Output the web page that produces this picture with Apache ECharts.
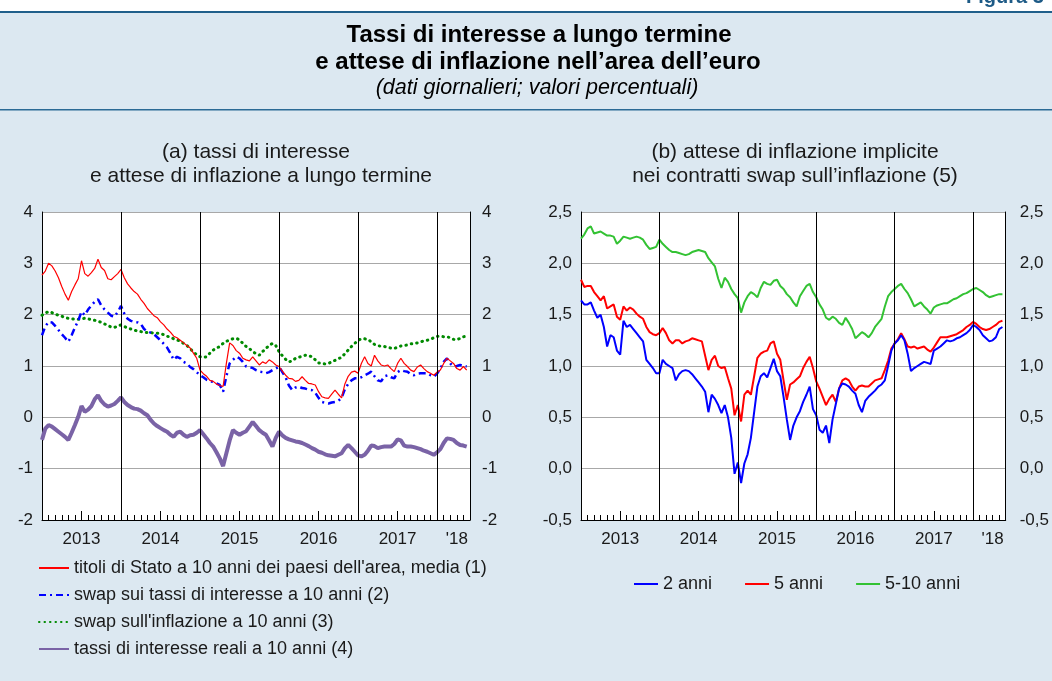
<!DOCTYPE html>
<html>
<head>
<meta charset="utf-8">
<script src="https://cdn.jsdelivr.net/npm/echarts@6/dist/echarts.min.js"></script>
<style>
  body { margin: 0; background: #fff; }
  #main { width: 1052px; height: 681px; }
</style>
</head>
<body>
<div id="main"></div>
<script>
// asse dei tempi: mesi da gennaio 2013 (0) a fine maggio 2018 (65), passo mezzo mese
var yearBreaks = [12, 24, 36, 48, 60]
var yearLabels = { 6: '2013', 18: '2014', 30: '2015', 42: '2016', 54: '2017' }
var lastLabel = "'18"

// (a) tassi di interesse e attese di inflazione a lungo termine
var titoli = [
  2.77, 2.85, 3.00, 2.95, 2.85, 2.72, 2.55, 2.40, 2.28, 2.45, 2.58, 2.70,
  3.05, 2.80, 2.75, 2.82, 2.90, 3.08, 2.92, 2.86, 2.70, 2.68, 2.74, 2.80,
  2.88, 2.72, 2.60, 2.52, 2.45, 2.40, 2.30, 2.22, 2.12, 2.05, 1.98, 1.94,
  1.86, 1.80, 1.72, 1.66, 1.58, 1.55, 1.50, 1.45, 1.40, 1.35, 1.25, 1.15,
  0.92, 0.85, 0.80, 0.72, 0.70, 0.65, 0.62, 0.60, 1.05, 1.45, 1.40, 1.30,
  1.25, 1.15, 1.12, 1.10, 1.18, 1.10, 1.02, 1.08, 1.05, 1.12, 1.08, 1.02,
  0.99, 0.90, 0.82, 0.76, 0.75, 0.70, 0.72, 0.79, 0.72, 0.66, 0.65, 0.63,
  0.50, 0.40, 0.38, 0.37, 0.45, 0.53, 0.45, 0.38, 0.65, 0.80, 0.88, 0.90,
  0.86, 1.05, 1.18, 1.05, 1.00, 1.21, 1.10, 1.02, 1.00, 1.02, 0.95, 0.89,
  1.05, 1.15, 1.05, 0.99, 0.92, 0.89, 0.98, 1.02, 0.95, 0.89, 0.86, 0.82,
  0.88, 0.92, 1.05, 1.15, 1.10, 1.05, 0.95, 0.92, 0.99, 0.92
]
var swapTassi = [
  1.60, 1.77, 1.86, 1.85, 1.78, 1.70, 1.62, 1.55, 1.47, 1.60, 1.75, 1.88,
  2.06, 1.99, 2.10, 2.18, 2.25, 2.30, 2.18, 2.10, 2.04, 1.98, 1.96, 2.05,
  2.17, 2.02, 1.92, 1.88, 1.86, 1.85, 1.82, 1.72, 1.67, 1.65, 1.62, 1.56,
  1.50, 1.43, 1.36, 1.25, 1.12, 1.18, 1.15, 1.08, 1.05, 0.98, 0.94, 0.88,
  0.82, 0.78, 0.73, 0.70, 0.69, 0.66, 0.63, 0.50, 0.80, 1.05, 1.12, 1.18,
  1.15, 1.08, 0.99, 0.98, 0.96, 0.92, 0.89, 0.88, 0.86, 0.88, 0.92, 0.95,
  0.99, 0.88, 0.78, 0.62, 0.53, 0.58, 0.60, 0.57, 0.56, 0.54, 0.53, 0.48,
  0.38, 0.30, 0.28, 0.27, 0.29, 0.30, 0.32, 0.38, 0.55, 0.65, 0.72, 0.76,
  0.76, 0.78, 0.82, 0.85, 0.89, 0.80, 0.72, 0.70, 0.80, 0.82, 0.78, 0.76,
  0.88, 0.92, 0.90, 0.89, 0.84, 0.82, 0.85, 0.86, 0.86, 0.86, 0.82, 0.79,
  0.85, 0.95, 1.08, 1.15, 1.05, 0.99, 1.00, 1.02, 1.00, 0.99
]
var swapInfl = [
  1.99, 2.03, 2.06, 2.04, 2.01, 1.99, 1.97, 1.94, 1.93, 1.92, 1.91, 1.91,
  1.92, 1.93, 1.92, 1.90, 1.89, 1.87, 1.85, 1.82, 1.79, 1.76, 1.75, 1.78,
  1.80, 1.77, 1.74, 1.72, 1.70, 1.68, 1.67, 1.66, 1.65, 1.65, 1.64, 1.64,
  1.63, 1.61, 1.58, 1.56, 1.53, 1.51, 1.48, 1.44, 1.40, 1.34, 1.27, 1.22,
  1.18, 1.17, 1.18, 1.25, 1.31, 1.35, 1.38, 1.44, 1.48, 1.51, 1.53, 1.54,
  1.51, 1.44, 1.38, 1.34, 1.28, 1.24, 1.21, 1.28, 1.34, 1.40, 1.44, 1.40,
  1.28, 1.20, 1.13, 1.08, 1.10, 1.15, 1.17, 1.19, 1.21, 1.20, 1.18, 1.12,
  1.06, 1.05, 1.04, 1.05, 1.08, 1.11, 1.14, 1.17, 1.24, 1.31, 1.38, 1.44,
  1.50, 1.53, 1.53, 1.52, 1.47, 1.42, 1.40, 1.38, 1.38, 1.36, 1.35, 1.34,
  1.37, 1.39, 1.40, 1.41, 1.43, 1.44, 1.45, 1.47, 1.49, 1.50, 1.52, 1.55,
  1.58, 1.58, 1.57, 1.57, 1.55, 1.52, 1.51, 1.54, 1.57, 1.58
]
var tassiReali = [
  -0.44, -0.22, -0.15, -0.18, -0.23, -0.28, -0.33, -0.38, -0.44, -0.30, -0.15, 0.01,
  0.22, 0.11, 0.15, 0.22, 0.35, 0.43, 0.32, 0.25, 0.21, 0.23, 0.26, 0.32,
  0.39, 0.30, 0.24, 0.20, 0.17, 0.16, 0.13, 0.08, 0.04, -0.05, -0.12, -0.17,
  -0.21, -0.25, -0.28, -0.34, -0.38, -0.30, -0.28, -0.34, -0.38, -0.35, -0.34, -0.30,
  -0.25, -0.33, -0.41, -0.50, -0.57, -0.68, -0.80, -0.95, -0.70, -0.45, -0.25, -0.30,
  -0.34, -0.30, -0.27, -0.18, -0.09, -0.17, -0.25, -0.30, -0.34, -0.45, -0.57, -0.40,
  -0.28, -0.35, -0.40, -0.43, -0.45, -0.47, -0.48, -0.50, -0.53, -0.56, -0.60, -0.63,
  -0.67, -0.69, -0.72, -0.74, -0.75, -0.76, -0.73, -0.70, -0.60, -0.54, -0.60, -0.67,
  -0.74, -0.76, -0.73, -0.65, -0.55, -0.56, -0.60, -0.58, -0.57, -0.57, -0.57, -0.52,
  -0.43, -0.45, -0.55, -0.57, -0.57, -0.58, -0.60, -0.62, -0.65, -0.67, -0.70, -0.73,
  -0.68, -0.62, -0.50, -0.41, -0.42, -0.44, -0.50, -0.54, -0.55, -0.57
]

// (b) attese di inflazione implicite nei contratti swap
var infl2 = [
  1.64, 1.60, 1.60, 1.62, 1.54, 1.47, 1.50, 1.38, 1.19, 1.30, 1.28, 1.15,
  1.11, 1.44, 1.38, 1.40, 1.36, 1.32, 1.28, 1.24, 1.06, 1.02, 0.98, 0.93,
  0.93, 1.06, 1.02, 1.00, 0.98, 0.86, 0.92, 0.95, 0.96, 0.95, 0.92, 0.88,
  0.84, 0.80, 0.75, 0.55, 0.72, 0.68, 0.62, 0.54, 0.62, 0.50, 0.30, -0.05,
  0.06, -0.14, 0.05, 0.14, 0.30, 0.55, 0.80, 0.90, 0.93, 0.89, 0.98, 1.07,
  0.95, 0.90, 0.70, 0.48, 0.28, 0.42, 0.50, 0.56, 0.65, 0.72, 0.80, 0.58,
  0.52, 0.38, 0.35, 0.42, 0.25, 0.48, 0.63, 0.78, 0.83, 0.82, 0.80, 0.76,
  0.73, 0.62, 0.55, 0.66, 0.70, 0.73, 0.76, 0.80, 0.82, 0.86, 1.00, 1.15,
  1.22, 1.25, 1.30, 1.25, 1.12, 0.95, 0.98, 1.00, 1.02, 1.04, 1.03, 1.02,
  1.15, 1.17, 1.19, 1.22, 1.25, 1.24, 1.25, 1.27, 1.28, 1.30, 1.32, 1.35,
  1.40, 1.38, 1.35, 1.30, 1.27, 1.24, 1.25, 1.28, 1.36, 1.38
]
var infl5 = [
  1.84, 1.77, 1.78, 1.78, 1.72, 1.68, 1.64, 1.68, 1.56, 1.58, 1.60, 1.48,
  1.45, 1.58, 1.54, 1.57, 1.55, 1.51, 1.48, 1.46, 1.38, 1.33, 1.31, 1.30,
  1.32, 1.37, 1.32, 1.25, 1.22, 1.25, 1.25, 1.22, 1.24, 1.25, 1.27, 1.26,
  1.25, 1.24, 1.10, 0.96, 1.06, 1.10, 1.00, 0.98, 0.99, 0.88, 0.78, 0.52,
  0.62, 0.46, 0.72, 0.76, 0.72, 0.90, 1.08, 1.12, 1.14, 1.15, 1.22, 1.24,
  1.12, 1.06, 0.86, 0.67, 0.82, 0.84, 0.87, 0.90, 0.98, 1.04, 1.09, 0.98,
  0.85, 0.78, 0.70, 0.62, 0.68, 0.72, 0.65, 0.78, 0.86, 0.88, 0.86, 0.80,
  0.76, 0.80, 0.81, 0.80, 0.80, 0.83, 0.86, 0.87, 0.88, 0.96, 1.05, 1.17,
  1.22, 1.26, 1.32, 1.26, 1.19, 1.18, 1.19, 1.17, 1.18, 1.19, 1.16, 1.14,
  1.18, 1.23, 1.28, 1.28, 1.28, 1.29, 1.30, 1.31, 1.33, 1.35, 1.38, 1.40,
  1.43, 1.41, 1.38, 1.36, 1.35, 1.36, 1.38, 1.40, 1.43, 1.44
]
var infl510 = [
  2.24, 2.28, 2.34, 2.36, 2.29, 2.30, 2.31, 2.29, 2.27, 2.27, 2.26, 2.19,
  2.22, 2.26, 2.25, 2.24, 2.25, 2.26, 2.25, 2.23, 2.18, 2.14, 2.15, 2.16,
  2.23, 2.19, 2.16, 2.13, 2.11, 2.11, 2.10, 2.09, 2.08, 2.09, 2.11, 2.12,
  2.13, 2.12, 2.11, 2.05, 2.01, 1.97, 1.85, 1.76, 1.86, 1.82, 1.75, 1.70,
  1.66, 1.52, 1.62, 1.68, 1.72, 1.70, 1.67, 1.76, 1.82, 1.80, 1.79, 1.83,
  1.84, 1.78, 1.75, 1.70, 1.67, 1.62, 1.58, 1.68, 1.73, 1.78, 1.80, 1.72,
  1.67, 1.60, 1.55, 1.47, 1.45, 1.48, 1.46, 1.42, 1.40, 1.47, 1.42, 1.36,
  1.27, 1.30, 1.33, 1.31, 1.28, 1.32, 1.38, 1.42, 1.46, 1.58, 1.68, 1.72,
  1.75, 1.78, 1.80, 1.75, 1.71, 1.65, 1.58, 1.60, 1.62, 1.58, 1.55, 1.51,
  1.57, 1.59, 1.60, 1.61, 1.61, 1.63, 1.65, 1.66, 1.68, 1.70, 1.71, 1.73,
  1.75, 1.76, 1.74, 1.72, 1.69, 1.67, 1.68, 1.69, 1.70, 1.70
]

var FONT = '"Liberation Sans", Arial, Helvetica, sans-serif'
var TXT = '#1a1a1a'

function pairs(arr) {
  return arr.map(function(v, i) { return [i / 2, v] })
}
function comma(v) {
  return v.toFixed(1).replace('.', ',')
}

function xMain(grid) {
  return {
    type: 'value', gridIndex: grid, min: 0, max: 65, interval: 6,
    axisLine: { onZero: false, lineStyle: { color: '#000', width: 1 } },
    axisTick: { inside: true, length: 9, lineStyle: { color: '#000' } },
    minorTick: { show: true, splitNumber: 6, length: 5, lineStyle: { color: '#000' } },
    splitLine: { show: false },
    axisLabel: {
      margin: 11, fontSize: 17, color: TXT, fontFamily: FONT,
      showMinLabel: true, showMaxLabel: true,
      formatter: function(v) { return yearLabels[v] || '' }
    }
  }
}
function xLast(grid) {
  return {
    type: 'value', gridIndex: grid, min: 0, max: 65, interval: 63, position: 'bottom',
    axisLine: { show: false, onZero: false }, axisTick: { show: false }, splitLine: { show: false },
    axisLabel: {
      margin: 11, fontSize: 17, color: TXT, fontFamily: FONT,
      showMinLabel: true, showMaxLabel: true,
      formatter: function(v) { return v === 63 ? lastLabel : '' }
    }
  }
}
function yAxis(grid, pos, min, max, step, fmt, margin) {
  return {
    type: 'value', gridIndex: grid, position: pos, min: min, max: max, interval: step,
    axisLine: { show: true, onZero: false, lineStyle: { color: '#000', width: 1 } },
    axisTick: { show: false },
    splitLine: { show: pos === 'left', lineStyle: { color: '#a8a8a8', width: 1 } },
    axisLabel: { margin: margin, fontSize: 17, color: TXT, fontFamily: FONT, formatter: fmt }
  }
}
var separators = {
  silent: true, symbol: ['none', 'none'], animation: false,
  label: { show: false },
  lineStyle: { color: '#000', width: 1, type: 'solid' },
  emphasis: { disabled: true },
  data: yearBreaks.map(function(v) { return { xAxis: v } })
}
function line(name, data, xi, yi, style, extra) {
  var s = {
    name: name, type: 'line', xAxisIndex: xi, yAxisIndex: yi,
    data: pairs(data), symbol: 'none', showSymbol: false,
    lineStyle: style, itemStyle: { color: style.color },
    emphasis: { disabled: true }, animation: false
  }
  if (extra) s.markLine = extra
  return s
}

var chart = echarts.init(document.getElementById('main'), null, { renderer: 'canvas' })
var option = {
  backgroundColor: '#dce8f1',
  textStyle: { fontFamily: FONT },
  graphic: [
    { type: 'rect', shape: { x: 0, y: 0, width: 1052, height: 11 }, style: { fill: '#fff' } },
    { type: 'text', x: 966, y: -13, style: { text: 'Figura 3', font: 'bold 20px ' + FONT, fill: '#1d5a86' } },
    { type: 'rect', shape: { x: 0, y: 11, width: 1052, height: 2 }, style: { fill: '#1f5f8b' } },
    { type: 'rect', shape: { x: 0, y: 109, width: 1052, height: 1.5 }, style: { fill: '#2b6a95' } },
    { type: 'text', x: 539, y: 35, style: { text: 'Tassi di interesse a lungo termine', font: 'bold 24px ' + FONT, fill: '#000', align: 'center', verticalAlign: 'middle' } },
    { type: 'text', x: 538, y: 62, style: { text: 'e attese di inflazione nell\u2019area dell\u2019euro', font: 'bold 24px ' + FONT, fill: '#000', align: 'center', verticalAlign: 'middle' } },
    { type: 'text', x: 537, y: 88, style: { text: '(dati giornalieri; valori percentuali)', font: 'italic 21.5px ' + FONT, fill: '#000', align: 'center', verticalAlign: 'middle' } },
    { type: 'text', x: 256, y: 152, style: { text: '(a) tassi di interesse', font: '21px ' + FONT, fill: TXT, align: 'center', verticalAlign: 'middle' } },
    { type: 'text', x: 261, y: 176, style: { text: 'e attese di inflazione a lungo termine', font: '21px ' + FONT, fill: TXT, align: 'center', verticalAlign: 'middle' } },
    { type: 'text', x: 795, y: 152, style: { text: '(b) attese di inflazione implicite', font: '21px ' + FONT, fill: TXT, align: 'center', verticalAlign: 'middle' } },
    { type: 'text', x: 795, y: 176, style: { text: 'nei contratti swap sull\u2019inflazione (5)', font: '21px ' + FONT, fill: TXT, align: 'center', verticalAlign: 'middle' } }
  ],
  grid: [
    { left: 42, top: 212, width: 428, height: 308, show: true, backgroundColor: '#fff', borderWidth: 0 },
    { left: 581, top: 212, width: 427, height: 308, show: true, backgroundColor: '#fff', borderWidth: 0 }
  ],
  xAxis: [xMain(0), xLast(0), xMain(1), xLast(1)],
  yAxis: [
    yAxis(0, 'left', -2, 4, 1, null, 9),
    yAxis(0, 'right', -2, 4, 1, null, 12),
    yAxis(1, 'left', -0.5, 2.5, 0.5, comma, 9),
    yAxis(1, 'right', -0.5, 2.5, 0.5, comma, 14)
  ],
  legend: [
    {
      orient: 'vertical', left: 33, top: 553, itemWidth: 30, itemHeight: 14, itemGap: 7,
      textStyle: { fontSize: 18, lineHeight: 20, color: TXT, fontFamily: FONT },
      itemStyle: { opacity: 0 },
      selectedMode: false,
      data: ["titoli di Stato a 10 anni dei paesi dell'area, media (1)", 'swap sui tassi di interesse a 10 anni (2)',
        "swap sull'inflazione a 10 anni (3)", 'tassi di interesse reali a 10 anni (4)']
    },
    {
      orient: 'horizontal', left: 628, top: 569, itemWidth: 24, itemHeight: 14, itemGap: 32,
      textStyle: { fontSize: 18, lineHeight: 20, color: TXT, fontFamily: FONT },
      itemStyle: { opacity: 0 },
      selectedMode: false,
      data: ['2 anni', '5 anni', '5-10 anni']
    }
  ],
  series: [
    line('tassi di interesse reali a 10 anni (4)', tassiReali, 0, 0, { color: '#7a63a6', width: 4 }, separators),
    line("swap sull'inflazione a 10 anni (3)", swapInfl, 0, 0, { color: '#008a00', width: 3, type: [0.5, 5], cap: 'round' }),
    line('swap sui tassi di interesse a 10 anni (2)', swapTassi, 0, 0, { color: '#0000ff', width: 2.5, type: [7, 4, 2, 4] }),
    line("titoli di Stato a 10 anni dei paesi dell'area, media (1)", titoli, 0, 0, { color: '#ff0000', width: 1.2 }),
    line('5-10 anni', infl510, 2, 2, { color: '#33c233', width: 2 }, separators),
    line('5 anni', infl5, 2, 2, { color: '#ff0000', width: 2 }),
    line('2 anni', infl2, 2, 2, { color: '#0000ff', width: 2 })
  ]
}
chart.setOption(option)
</script>
</body>
</html>
